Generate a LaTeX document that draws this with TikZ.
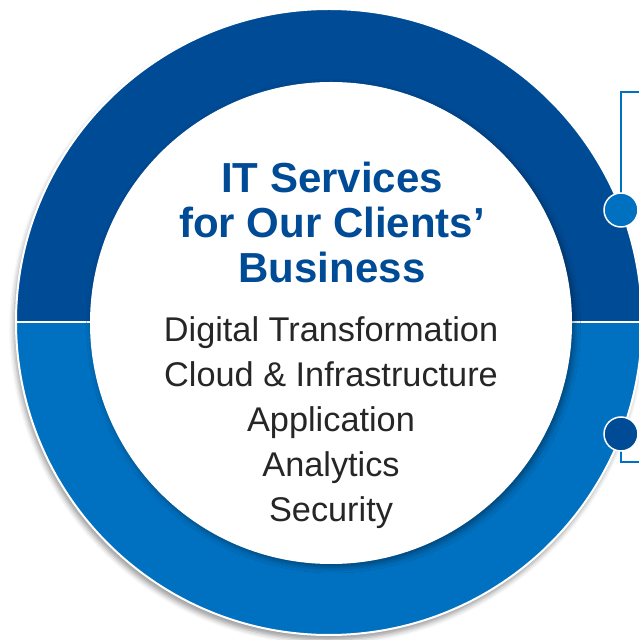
\documentclass[tikz,border=0pt]{standalone}
\usepackage{fontspec}
\setmainfont{Liberation Sans}
\usetikzlibrary{shadows.blur}
\definecolor{navy}{HTML}{004B96}
\definecolor{azure}{HTML}{0070C0}
\definecolor{ink}{HTML}{262626}
\begin{document}
\begin{tikzpicture}[x=1pt,y=1pt]
\tikzstyle{disc}=[circle,inner sep=0pt,outer sep=0pt]
\tikzstyle{knob}=[disc,draw=white,line width=1.5pt,minimum size=34pt]
\tikzstyle{boxline}=[draw=azure,line width=2.5pt]
\tikzstyle{title}=[inner sep=0pt,anchor=base,text=navy,font=\fontsize{42}{45}\selectfont\bfseries]
\tikzstyle{item}=[inner sep=0pt,anchor=base,text=ink,font=\fontsize{34.3}{45}\selectfont]
\useasboundingbox (0,0) rectangle (639,640);
\clip (0,0) rectangle (639,640);
\coordinate (pinup) at (621,430);
\coordinate (pinlow) at (621,206);
\coordinate (boxtop) at (670,548);
\coordinate (boxbot) at (670,178);
% frame behind the ring
\draw[boxline] (boxtop) -| (pinup) -- (pinlow) |- (boxbot);
\node (ring) [disc,fill=azure,minimum size=626pt,blur shadow={shadow xshift=-2pt,shadow yshift=-5pt,shadow blur radius=5pt}] at (329,318) {};
\fill[navy] (ring.west) arc (180:0:313) -- cycle;
\draw[white,line width=2.5pt] (ring.west) -- (ring.east);
\draw[white,line width=2pt] (ring.center) circle (313);
\node (core) [disc,fill=white,minimum size=482pt,blur shadow={shadow yshift=-3pt,shadow blur radius=6pt}] at (331,317) {};
\node (knobup) [knob,fill=azure] at (pinup) {};
\node (knoblow) [knob,fill=navy] at (pinlow) {};
% texts
\foreach \txt [count=\i] in {IT Services, for Our Clients’, Business}
  \node[title] (head\i) at (332,{492-45*\i}) {\txt};
\foreach \txt [count=\i] in {Digital Transformation, Cloud \& Infrastructure, Application, Analytics, Security}
  \node[item] (line\i) at (331,{343-45*\i}) {\txt};
\end{tikzpicture}
\end{document}
